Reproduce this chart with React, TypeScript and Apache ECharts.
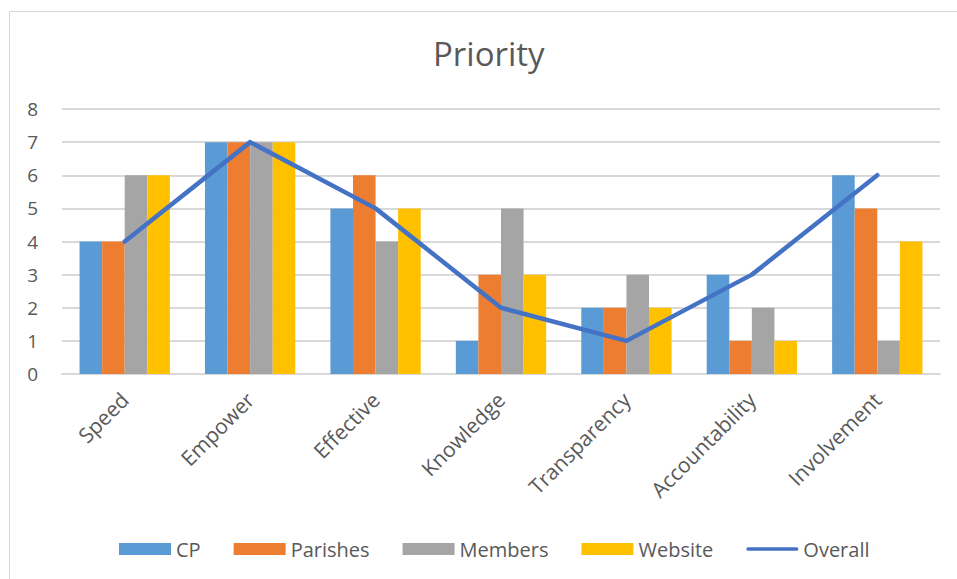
import React, { useEffect, useRef } from "react";
import * as echarts from "echarts";

const categories = ["Speed", "Empower", "Effective", "Knowledge", "Transparency", "Accountability", "Involvement"];
const cpValues = [4, 7, 5, 1, 2, 3, 6];
const parishesValues = [4, 7, 6, 3, 2, 1, 5];
const membersValues = [6, 7, 4, 5, 3, 2, 1];
const websiteValues = [6, 7, 5, 3, 2, 1, 4];
const overallValues = [4, 7, 5, 2, 1, 3, 6];

const FONT = "'Open Sans', 'Liberation Sans', sans-serif";
const TXT = "#595959";

export default function App() {
  const ref = useRef<HTMLDivElement>(null);
  useEffect(() => {
    if (!ref.current) return;
    const chart = echarts.init(ref.current, undefined, { renderer: "svg" });
    const bar = (name: string, data: number[], color: string) => ({
      name,
      type: "bar",
      data,
      barGap: "0%",
      barCategoryGap: "28%",
      itemStyle: { color },
    });
    chart.setOption({
      animation: false,
      backgroundColor: "#ffffff",
      textStyle: { fontFamily: FONT },
      title: {
        text: "Priority",
        left: 433,
        top: 37,
        padding: 0,
        textStyle: { fontFamily: FONT, fontSize: 33, fontWeight: "normal", color: TXT },
      },
      graphic: [
        {
          type: "rect",
          shape: { x: 9.5, y: 11.5, width: 1000, height: 700 },
          style: { fill: "none", stroke: "#d9d9d9", lineWidth: 1 },
          silent: true,
        },
      ],
      legend: {
        left: 119,
        top: 539,
        padding: 0,
        itemWidth: 52,
        itemHeight: 12,
        itemGap: 33,
        textStyle: { fontFamily: FONT, fontSize: 20, color: TXT },
        data: [
          { name: "CP", icon: "rect" },
          { name: "Parishes", icon: "rect" },
          { name: "Members", icon: "rect" },
          { name: "Website", icon: "rect" },
          { name: "Overall", icon: "path://M2,0 L54,0 A2,2 0 0 1 54,4 L2,4 A2,2 0 0 1 2,0 Z" },
        ],
      },
      grid: { left: 62, right: 17, top: 109, bottom: 205, containLabel: false },
      xAxis: {
        type: "category",
        data: categories,
        axisLine: { lineStyle: { color: "#d9d9d9", width: 2 } },
        axisTick: { show: false },
        axisLabel: {
          rotate: 45,
          margin: 22,
          fontFamily: FONT,
          fontSize: 21,
          color: TXT,
          interval: 0,
        },
      },
      yAxis: {
        type: "value",
        min: 0,
        max: 8,
        interval: 1,
        axisLine: { show: false },
        axisTick: { show: false },
        splitLine: { lineStyle: { color: "#d9d9d9", width: 2 } },
        axisLabel: { margin: 24, fontFamily: FONT, fontSize: 19, color: TXT },
      },
      series: [
        bar("CP", cpValues, "#5B9BD5"),
        bar("Parishes", parishesValues, "#ED7D31"),
        bar("Members", membersValues, "#A5A5A5"),
        bar("Website", websiteValues, "#FFC000"),
        {
          name: "Overall",
          type: "line",
          data: overallValues,
          symbol: "none",
          z: 5,
          itemStyle: { color: "#4472C4" },
          lineStyle: { color: "#4472C4", width: 4.5, cap: "round", join: "round" },
        },
      ],
    });
    return () => chart.dispose();
  }, []);
  return (
    <div
      ref={ref}
      style={{ position: "absolute", left: 0, top: 0, width: 957, height: 579 }}
    />
  );
}
